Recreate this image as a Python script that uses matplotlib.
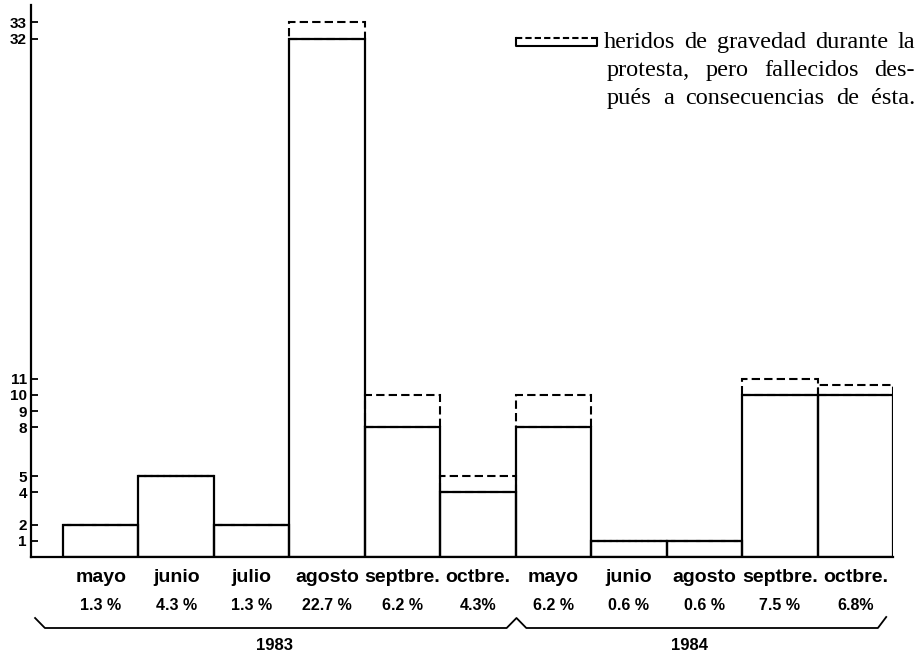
import numpy as np
import matplotlib
matplotlib.use('Agg')
import matplotlib.pyplot as plt
from matplotlib.lines import Line2D
from matplotlib.transforms import blended_transform_factory

# data
months = ['mayo', 'junio', 'julio', 'agosto', 'septbre.', 'octbre.',
          'mayo', 'junio', 'agosto', 'septbre.', 'octbre.']
pct_labels = ['1.3 %', '4.3 %', '1.3 %', '22.7 %', '6.2 %', '4.3%',
              '6.2 %', '0.6 %', '0.6 %', '7.5 %', '6.8%']
muertos = [2, 5, 2, 32, 8, 4, 8, 1, 1, 10, 10]
total = [2, 5, 2, 33, 10, 5, 10, 1, 1, 11, 10.6]
years = ['1983', '1984']
ytick_vals = [1, 2, 4, 5, 8, 9, 10, 11, 32, 33]

W, H = 923, 654
fig = plt.figure(figsize=(W / 100, H / 100), dpi=100)

def fx(px):
    return px / W

def fy(py):
    return 1 - py / H

ax = fig.add_axes([fx(31), fy(557), fx(893) - fx(31), (557 - 5) / H])

x = np.arange(len(months))
extra = np.array(total) - np.array(muertos)

# dashed part (heridos, fallecidos despues)
ax.bar(x, extra, bottom=muertos, width=1.0, fill=False, edgecolor='black',
       linewidth=1.5, linestyle=(0, (4, 2)), zorder=2)
# solid part
ax.bar(x, muertos, width=1.0, fill=False, edgecolor='black', linewidth=1.6,
       zorder=3)

ax.set_xlim(-0.5 - 32 / 75.45, 10.5)
ax.set_ylim(0, 552 / 16.2)

for s in ['top', 'right']:
    ax.spines[s].set_visible(False)
for s in ['left', 'bottom']:
    ax.spines[s].set_linewidth(1.6)

ax.set_xticks([])
ax.set_yticks(ytick_vals)
ax.set_yticklabels([str(v) for v in ytick_vals], fontsize=11,
                   fontweight='bold', family='Liberation Sans')
ax.tick_params(axis='y', direction='in', length=5, width=1.3, pad=3)

# labels under bars
tr = blended_transform_factory(ax.transData, fig.transFigure)
for i in range(len(months)):
    fig.text(x[i], fy(577), months[i], transform=tr, ha='center', va='center',
             fontsize=14, fontweight='bold', family='Liberation Sans')
    fig.text(x[i], fy(605), pct_labels[i], transform=tr, ha='center',
             va='center', fontsize=11.5, fontweight='bold',
             family='Liberation Sans')

# braces for the years
bx = [-0.87, -0.74, 5.38, 5.51, 5.64, 10.3, 10.41]
by = [618, 628, 628, 618, 628, 628, 617]
fig.add_artist(Line2D(bx, [fy(v) for v in by], transform=tr, color='black',
                      linewidth=1.3))
fig.text(2.3, fy(646), years[0], transform=tr, ha='center', va='center',
         fontsize=12, fontweight='bold', family='Liberation Sans')
fig.text(7.8, fy(646), years[1], transform=tr, ha='center', va='center',
         fontsize=12, fontweight='bold', family='Liberation Sans')

# legend box
bx0, bx1, byt, byb = 516, 597, 38, 46
fig.add_artist(Line2D([fx(bx0), fx(bx1)], [fy(byt), fy(byt)], color='black',
                      linewidth=1.5, linestyle=(0, (3, 1.5))))
fig.add_artist(Line2D([fx(bx0), fx(bx0), fx(bx1), fx(bx1)],
                      [fy(byt), fy(byb), fy(byb), fy(byt)], color='black',
                      linewidth=1.5))

# justified note text
fig.canvas.draw()
rend = fig.canvas.get_renderer()

def justify(line, x0, x1, ybase):
    words = line.split()
    ts = [fig.text(0, fy(ybase), w, ha='left', va='baseline', fontsize=17.5,
                   family='Liberation Serif') for w in words]
    widths = [t.get_window_extent(rend).width for t in ts]
    gap = (x1 - x0 - sum(widths)) / (len(words) - 1)
    pos = x0
    for t, w in zip(ts, widths):
        t.set_x(fx(pos))
        pos += w + gap

justify('heridos de gravedad durante la', 604, 915, 48)
justify('protesta, pero fallecidos des-', 607, 915, 76)
justify('pués a consecuencias de ésta.', 607, 915, 104)

fig.savefig('out.png', dpi=100)
